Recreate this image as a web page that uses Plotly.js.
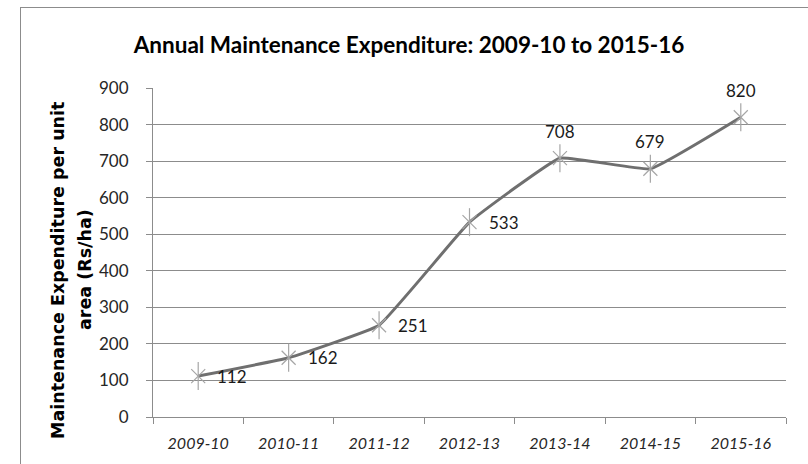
<!DOCTYPE html>
<html>
<head>
<meta charset="utf-8">
<script src="https://cdn.plot.ly/plotly-3.0.1.min.js"></script>
<style>
html,body{margin:0;padding:0;background:#fff;}
#chart{width:808px;height:464px;}
</style>
</head>
<body>
<div id="chart"></div>
<script>
var years = ["2009-10","2010-11","2011-12","2012-13","2013-14","2014-15","2015-16"];
var expenditure = [112,162,251,533,708,679,820];
var labelSide = ["right","right","right","right","above","above","above"];
var yTickValues = [0,100,200,300,400,500,600,700,800,900];
var yTitleLines = ["Maintenance Expenditure per unit", "area (Rs/ha)"];

var W = 808, H = 464;
var L = 153, R = 22, T = 88, B = 47;
var pw = W - L - R, ph = H - T - B;
function px2x(p){ return (p - L) / pw; }
function py2y(p){ return (H - B - p) / ph; }

var gray = '#8c8c8c';

var lineTrace = {
  x: years, y: expenditure, type: 'scatter', mode: 'lines',
  line: {color: '#6f6f6f', width: 3, shape: 'spline', smoothing: 0.28},
  hoverinfo: 'skip', showlegend: false
};
var markX = {
  x: years, y: expenditure, type: 'scatter', mode: 'markers',
  marker: {symbol: 'x-thin-open', size: 14, color: '#a6a6a6', line: {color: '#a6a6a6', width: 1.2}},
  showlegend: false
};
var markV = {
  x: years, y: expenditure, type: 'scatter', mode: 'markers',
  marker: {symbol: 'line-ns-open', size: 20, color: '#a6a6a6', line: {color: '#a6a6a6', width: 1.2}},
  showlegend: false
};

var annotations = years.map(function(c, i){
  var right = labelSide[i] === 'right';
  return {
    x: c, y: expenditure[i], xref: 'x', yref: 'y',
    text: String(expenditure[i]), showarrow: false,
    xanchor: right ? 'left' : 'center', yanchor: 'middle',
    xshift: right ? 17 : 0, yshift: right ? 0 : 27,
    font: {family: 'Lato, sans-serif', size: 17, color: '#1a1a1a'}
  };
});
var yTitleX = [58, 85];
yTitleLines.forEach(function(t, i){
  annotations.push({
    xref: 'paper', yref: 'paper', x: px2x(yTitleX[i]), y: py2y(270),
    text: t, textangle: -90,
    showarrow: false, xanchor: 'center', yanchor: 'middle', align: 'center',
    font: {family: 'DejaVu Sans, sans-serif', size: 17.5, color: '#000', weight: 'bold'}
  });
});

var layout = {
  width: W, height: H,
  margin: {l: L, r: R, t: T, b: B, pad: 0},
  paper_bgcolor: '#fff', plot_bgcolor: '#fff',
  title: {
    text: 'Annual Maintenance Expenditure: 2009-10 to 2015-16',
    x: 409 / W, xanchor: 'center', xref: 'container',
    y: 1 - 45 / H, yanchor: 'middle', yref: 'container',
    font: {family: 'Lato, sans-serif', size: 22.5, color: '#000', weight: 'bold'}
  },
  xaxis: {
    type: 'category', range: [-0.5, 6.5], showgrid: false, zeroline: false,
    showline: true, linecolor: gray, linewidth: 1,
    ticks: 'outside', tickson: 'boundaries', ticklen: 6, tickcolor: gray,
    ticklabelstandoff: 12,
    tickfont: {family: 'Lato, sans-serif', size: 16, color: '#262626', style: 'italic'}
  },
  yaxis: {
    range: [0, 900], tickvals: yTickValues, showgrid: true, gridcolor: gray, gridwidth: 1,
    zeroline: false, showline: true, linecolor: gray, linewidth: 1,
    ticks: 'outside', ticklen: 6, tickcolor: gray, ticklabelstandoff: 14,
    tickfont: {family: 'Lato, sans-serif', size: 17, color: '#262626'}
  },
  annotations: annotations,
  shapes: [
    {type: 'line', xref: 'paper', yref: 'paper', x0: px2x(20), x1: px2x(810), y0: py2y(7.5), y1: py2y(7.5), line: {color: gray, width: 1}},
    {type: 'line', xref: 'paper', yref: 'paper', x0: px2x(20.5), x1: px2x(20.5), y0: py2y(7.5), y1: py2y(470), line: {color: gray, width: 1}}
  ],
  showlegend: false
};

Plotly.newPlot('chart', [lineTrace, markX, markV], layout, {staticPlot: true, displayModeBar: false});
</script>
</body>
</html>
